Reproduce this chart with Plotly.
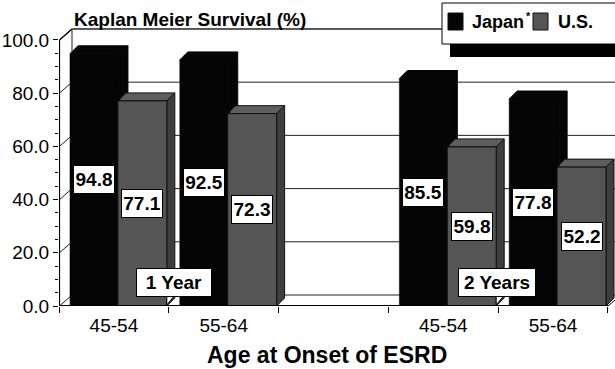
import plotly.graph_objects as go

# ---- data -------------------------------------------------------------
age_groups = ["45-54", "55-64", "45-54", "55-64"]
slot_pos = [0, 1, 3, 4]            # slot 2 is an empty spacer between the two periods
japan = [94.8, 92.5, 85.5, 77.8]
us = [77.1, 72.3, 59.8, 52.2]
periods = ["1 Year", "2 Years"]
period_pos = [0.55, 3.49]
period_split = [0.5, 3.5]
y_ticks = [0, 20, 40, 60, 80, 100]

# ---- geometry ---------------------------------------------------------
W, H = 615, 369
L, R, T, B = 59, 0, 20, 63
X_RANGE = [-0.5, 4.564]
Y_RANGE = [0, 107.5]
PX_X = (W - L - R) / (X_RANGE[1] - X_RANGE[0])
PX_Y = (H - T - B) / (Y_RANGE[1] - Y_RANGE[0])


def dx(px):
    return px / PX_X


def dy(px):
    return px / PX_Y


def pxp(px):   # pixel x -> paper x
    return (px - L) / (W - L - R)


def pyp(py):   # pixel y -> paper y
    return (H - B - py) / (H - T - B)


WALL_DX, WALL_DY = dx(13), dy(11)
BAR_DX, BAR_DY = dx(8), dy(8)
JP_OFF, JP_W = -0.40, 0.455
US_OFF, US_W = 0.036, 0.446

JP_COLOR = "#050505"
US_COLOR = "#555555"
US_SIDE = "#3e3e3e"
US_TOP = "#5e5e5e"
FONT = "Arial, Liberation Sans, Helvetica, sans-serif"

shapes = []


def line(x0, y0, x1, y1, color="black", width=1, layer="below"):
    shapes.append(dict(type="line", xref="x", yref="y", x0=x0, y0=y0, x1=x1, y1=y1,
                       line=dict(color=color, width=width), layer=layer))


def poly(pts, fill, edge, layer="below", width=1):
    path = "M " + " L ".join(f"{a},{b}" for a, b in pts) + " Z"
    shapes.append(dict(type="path", xref="x", yref="y", path=path, fillcolor=fill,
                       line=dict(color=edge, width=width), layer=layer))


# back wall gridlines, side-wall slants and wall edges
xl = X_RANGE[0] + dx(0.5)
xb = X_RANGE[0] + WALL_DX
for v in y_ticks:
    line(xb, v + WALL_DY, X_RANGE[1] + 1, v + WALL_DY, color="#222", width=1)
    line(xl, v, xb, v + WALL_DY, color="#222", width=1)
line(xb, WALL_DY, xb, 100 + WALL_DY, color="#222", width=1)
# floor edge on the right
line(4.5, 0, 4.5 + WALL_DX, WALL_DY, color="black", width=1)


# 3-D faces of bars (top + right side), built from the values
def faces(values, off, width, top, side, edge):
    for x, v in zip(slot_pos, values):
        x0, x1 = x + off, x + off + width
        poly([(x0, v), (x0 + BAR_DX, v + BAR_DY), (x1 + BAR_DX, v + BAR_DY), (x1, v)], top, edge)
        poly([(x1, 0), (x1 + BAR_DX, BAR_DY), (x1 + BAR_DX, v + BAR_DY), (x1, v)], side, edge)


faces(japan, JP_OFF, JP_W, JP_COLOR, JP_COLOR, JP_COLOR)
faces(us, US_OFF, US_W, US_TOP, US_SIDE, "#111")

# front axis lines
line(xl, 0, xl, 100, width=1.2, layer="above")
line(xl, 100, xb, 100 + WALL_DY, width=1.2, layer="above")
line(X_RANGE[0], dy(0.5), 4.5, dy(0.5), width=1.2, layer="above")

# period callout notches
for xs in period_split:
    poly([(xs - dx(2), 0.4), (xs - dx(2), 5.0), (xs + dx(8), 5.0)], "white", "black", layer="above")

fig = go.Figure()
fig.add_trace(go.Bar(x=slot_pos, y=japan, name="Japan*", offset=JP_OFF, width=JP_W,
                     marker=dict(color=JP_COLOR, line=dict(color=JP_COLOR, width=0.5))))
fig.add_trace(go.Bar(x=slot_pos, y=us, name="U.S.", offset=US_OFF, width=US_W,
                     marker=dict(color=US_COLOR, line=dict(color="#111", width=1))))

annotations = []
for x, vj, vu in zip(slot_pos, japan, us):
    for xa, v in ((x + (JP_OFF + US_OFF) / 2, vj), (x + US_OFF + US_W / 2, vu)):
        annotations.append(dict(x=xa, y=v / 2, xref="x", yref="y", text=f"<b>{v:.1f}</b>",
                                showarrow=False, bgcolor="white", bordercolor="black",
                                borderwidth=1, borderpad=1, width=38, height=25,
                                font=dict(family=FONT, size=19, color="black")))
for xp, label in zip(period_pos, periods):
    annotations.append(dict(x=xp, y=dy(24), xref="x", yref="y", text=f"<b>{label}</b>",
                            showarrow=False, bgcolor="white", bordercolor="black",
                            borderwidth=1, borderpad=1, width=72 if len(label) < 7 else 74,
                            height=25, font=dict(family=FONT, size=19, color="black")))

# x-axis title
annotations.append(dict(x=pxp(327), y=pyp(355), xref="paper", yref="paper",
                        xanchor="center", yanchor="middle",
                        text="<b>Age at Onset of ESRD</b>", showarrow=False,
                        font=dict(family=FONT, size=23, color="black")))

# legend box with drop shadow
shapes.append(dict(type="rect", xref="paper", yref="paper", x0=pxp(450), x1=pxp(620),
                   y0=pyp(57), y1=pyp(43), fillcolor="black", line=dict(width=0), layer="above"))
shapes.append(dict(type="rect", xref="paper", yref="paper", x0=pxp(442), x1=pxp(620),
                   y0=pyp(44), y1=pyp(3), fillcolor="white", line=dict(color="black", width=1),
                   layer="above"))
shapes.append(dict(type="line", xref="paper", yref="paper", x0=pxp(73), x1=pxp(442),
                   y0=pyp(29), y1=pyp(29), line=dict(color="#222", width=1), layer="above"))
for x0, col in ((448, JP_COLOR), (533, US_COLOR)):
    shapes.append(dict(type="rect", xref="paper", yref="paper", x0=pxp(x0), x1=pxp(x0 + 15),
                       y0=pyp(30), y1=pyp(13), fillcolor=col, line=dict(color="#111", width=1),
                       layer="above"))
annotations.append(dict(x=pxp(470), y=pyp(22), xref="paper", yref="paper",
                        xanchor="left", yanchor="middle",
                        text="<b>Japan</b>", showarrow=False,
                        font=dict(family=FONT, size=18, color="black")))
annotations.append(dict(x=pxp(524), y=pyp(16), xref="paper", yref="paper",
                        xanchor="left", yanchor="middle",
                        text="<b>*</b>", showarrow=False,
                        font=dict(family=FONT, size=11, color="black")))
annotations.append(dict(x=pxp(556), y=pyp(22), xref="paper", yref="paper",
                        xanchor="left", yanchor="middle",
                        text="<b>U.S.</b>", showarrow=False,
                        font=dict(family=FONT, size=18, color="black")))

fig.update_layout(
    width=W, height=H, margin=dict(l=L, r=R, t=T, b=B),
    barmode="overlay", showlegend=False,
    plot_bgcolor="white", paper_bgcolor="white",
    font=dict(family=FONT, color="black"),
    title=dict(text="<b>Kaplan Meier Survival (%)</b>", x=74 / W, xref="container", xanchor="left",
               y=1 - 19 / H, yref="container", yanchor="middle",
               font=dict(family=FONT, size=19, color="black")),
    xaxis=dict(range=X_RANGE, tickvals=slot_pos, ticktext=age_groups, ticks="",
               showgrid=False, zeroline=False, showline=False, ticklabelstandoff=6,
               tickfont=dict(family=FONT, size=19, color="black"),
               minor=dict(tickvals=[-0.5, 0.5, 1.5, 2.5, 3.5, 4.5], ticks="outside",
                          ticklen=6, tickcolor="black", showgrid=False)),
    yaxis=dict(range=Y_RANGE, tickvals=y_ticks, ticktext=[f"{v:.1f}" for v in y_ticks],
               ticks="outside", ticklen=5, tickcolor="black", showgrid=False,
               zeroline=False, showline=False,
               tickfont=dict(family=FONT, size=19, color="black"),
               minor=dict(tickvals=[v for v in range(5, 100, 5) if v % 20], ticks="outside",
                          ticklen=3, tickcolor="black", showgrid=False)),
    shapes=shapes, annotations=annotations,
)

fig.write_html("out.html")
